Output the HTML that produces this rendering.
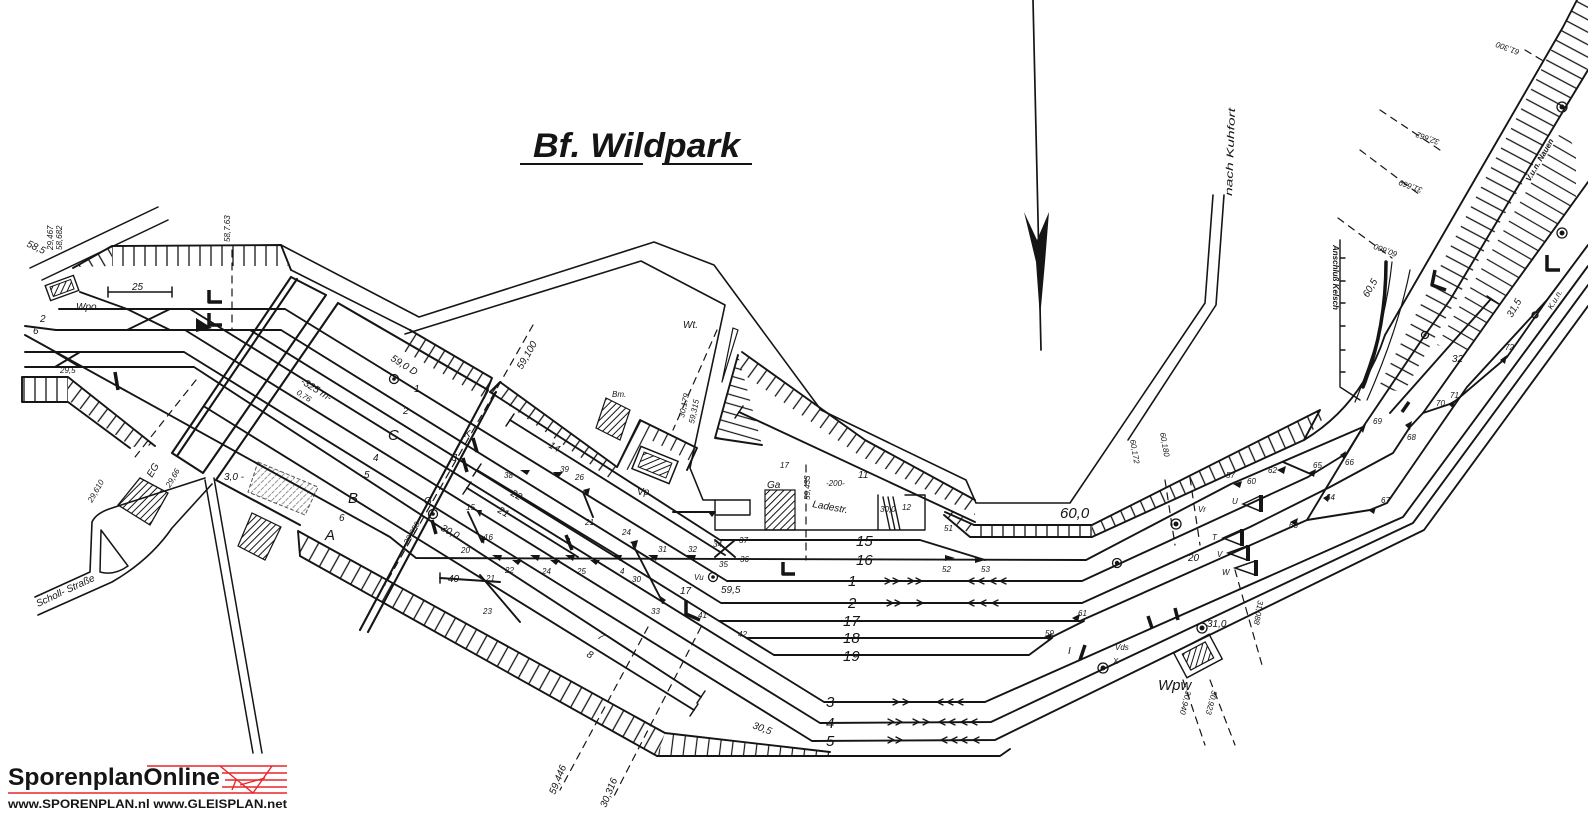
<!DOCTYPE html>
<html><head><meta charset="utf-8">
<style>
html,body{margin:0;padding:0;background:#fff;width:1588px;height:816px;overflow:hidden}
svg{display:block}
text{font-family:"Liberation Sans",sans-serif;fill:#151515}
.t{font-size:10px;font-style:italic}
.s{font-size:8px;font-style:italic}
.m{font-size:15px;font-style:italic}
</style></head><body>
<svg xmlns="http://www.w3.org/2000/svg" width="1588" height="816" viewBox="0 0 1588 816">
<defs>
<pattern id="h0" width="11" height="40" patternUnits="userSpaceOnUse"><path d="M2 0V40" stroke="#151515" stroke-width="1.3"/></pattern>
<pattern id="hm30" width="11" height="40" patternUnits="userSpaceOnUse" patternTransform="rotate(-30)"><path d="M2 0V40" stroke="#151515" stroke-width="1.3"/></pattern>
<pattern id="h37" width="11" height="40" patternUnits="userSpaceOnUse" patternTransform="rotate(37)"><path d="M2 0V40" stroke="#151515" stroke-width="1.3"/></pattern>
<pattern id="h29" width="12" height="40" patternUnits="userSpaceOnUse" patternTransform="rotate(29)"><path d="M2 0V40" stroke="#151515" stroke-width="1.3"/></pattern>
<pattern id="h7" width="12" height="40" patternUnits="userSpaceOnUse" patternTransform="rotate(7)"><path d="M2 0V40" stroke="#151515" stroke-width="1.2"/></pattern>
<pattern id="h32" width="11" height="40" patternUnits="userSpaceOnUse" patternTransform="rotate(32)"><path d="M2 0V40" stroke="#151515" stroke-width="1.3"/></pattern>
<pattern id="h36" width="11" height="40" patternUnits="userSpaceOnUse" patternTransform="rotate(36)"><path d="M2 0V40" stroke="#151515" stroke-width="1.3"/></pattern>
<pattern id="h27" width="10" height="40" patternUnits="userSpaceOnUse" patternTransform="rotate(27)"><path d="M2 0V40" stroke="#151515" stroke-width="1.2"/></pattern>
<pattern id="h70" width="9" height="40" patternUnits="userSpaceOnUse" patternTransform="rotate(-74)"><path d="M2 0V40" stroke="#151515" stroke-width="1.2"/></pattern>
<pattern id="hm24" width="11" height="40" patternUnits="userSpaceOnUse" patternTransform="rotate(-24)"><path d="M2 0V40" stroke="#151515" stroke-width="1.3"/></pattern>
<pattern id="hm62" width="11" height="60" patternUnits="userSpaceOnUse" patternTransform="rotate(-62)"><path d="M2 0V60" stroke="#151515" stroke-width="1.3"/></pattern>
<pattern id="hm60" width="11" height="60" patternUnits="userSpaceOnUse" patternTransform="rotate(-60)"><path d="M2 0V60" stroke="#151515" stroke-width="1.2"/></pattern>
<pattern id="hb" width="5" height="5" patternUnits="userSpaceOnUse" patternTransform="rotate(45)"><path d="M1 0V5" stroke="#151515" stroke-width="1"/></pattern>
<pattern id="hl" width="5" height="5" patternUnits="userSpaceOnUse" patternTransform="rotate(45)"><path d="M1 0V5" stroke="#777" stroke-width="0.8" stroke-dasharray="2 1"/></pattern>
</defs>

<g stroke="none">
<polygon points="112,246 281,246 288,266 112,266" fill="url(#h0)"/>
<polygon points="75,267 112,246 112,266" fill="url(#hm30)"/>
<polygon points="22,378 68,378 68,402 22,402" fill="url(#h0)"/>
<polygon points="68,378 155,445 132,447 68,400" fill="url(#h37)"/>
<polygon points="298,531 665,733 657,756 300,556" fill="url(#h29)"/>
<polygon points="665,733 830,752 830,756 657,756" fill="url(#h7)"/>
<polygon points="410,330 492,378 484,398 402,350" fill="url(#h32)"/>
<polygon points="500,382 617,467 609,478 490,392" fill="url(#h36)"/>
<polygon points="617,467 640,420 697,448 690,461 645,437 628,470" fill="url(#h27)"/>
<polygon points="738,355 715,438 762,445" fill="url(#h70)"/>
<polygon points="742,352 865,440 975,500 975,515 860,456 740,372" fill="url(#h36)"/>
<polygon points="948,508 974,525 974,537 944,515" fill="url(#h37)"/>
<polygon points="974,525 1092,525 1092,537 974,537" fill="url(#h0)"/>
<polygon points="1092,525 1318,410 1322,420 1304,440 1092,537" fill="url(#hm24)"/>
<polygon points="1378,388 1563,27 1577,0 1588,0 1588,68 1565,108 1404,392" fill="url(#hm62)"/>
<polygon points="1437,345 1563,128 1576,150 1576,200 1489,320 1465,352" fill="url(#hm60)"/>
<polygon points="118,505 140,478 168,493 150,525" fill="url(#hb)" stroke="#151515" stroke-width="1.3"/>
<polygon points="258,462 318,487 305,515 248,492" fill="url(#hl)" stroke="#555" stroke-width="1" stroke-dasharray="4 2"/>
<polygon points="252,513 281,527 265,560 238,546" fill="url(#hb)" stroke="#151515" stroke-width="1.2"/>
<polygon points="606,398 630,410 620,440 596,428" fill="url(#hb)" stroke="#151515" stroke-width="1.2"/>
<rect x="765" y="490" width="30" height="40" fill="url(#hb)" stroke="#151515" stroke-width="1.2"/>
<g transform="translate(655,465) rotate(22)"><rect x="-20" y="-12" width="40" height="24" fill="none" stroke="#151515" stroke-width="1.5"/><rect x="-15" y="-8" width="30" height="16" fill="url(#hb)" stroke="#151515" stroke-width="1"/></g>
<g transform="translate(62,288) rotate(-20)"><rect x="-15" y="-8" width="30" height="16" fill="none" stroke="#151515" stroke-width="1.4"/><rect x="-11" y="-5" width="22" height="10" fill="url(#hb)" stroke="#151515" stroke-width="1"/></g>
<g transform="translate(1198,656) rotate(-28)"><rect x="-20" y="-14" width="40" height="28" fill="none" stroke="#151515" stroke-width="1.4"/><rect x="-13" y="-9" width="26" height="18" fill="url(#hb)" stroke="#151515" stroke-width="1.2"/></g>
</g>

<g fill="none" stroke="#151515" stroke-width="1.9" stroke-linejoin="round" stroke-linecap="round">
<path d="M73 268 L112 246 L281 245 L291 270"/>
<path d="M22 377 H68 L155 446 M22 377 V402 H68 L130 448"/>
<path d="M298 531 L665 733 L830 752 M300 556 L657 756 L1000 756 L1010 749 M298 531 L300 556"/>
<path d="M410 330 L492 378 L484 398"/>
<path d="M490 392 L500 382 L617 467"/>
<path d="M617 467 L640 420 L697 448 L687 470"/>
<path d="M738 355 L715 438 L762 445"/>
<path d="M742 352 L865 440 L975 500"/>
<path d="M945 512 L974 525 L1092 525 L1320 410 L1304 440"/>
<path d="M944 515 L970 537 L1092 537 L1304 440 Q1362 405 1385 335 L1563 27 L1577 0"/>

<path d="M30 268 L158 207 M42 280 L168 220" stroke-width="1.5"/>
<path d="M1213 195 L1205 303 L1070 503 L976 503 L966 480 L821 410 L714 265 L654 242 L419 317 L281 245" stroke-width="1.6"/>
<path d="M1224 195 L1216 305 L1128 440" stroke-width="1.6"/>
<path d="M291 270 L410 330 M405 334 L641 261 L725 305 L690 468 L703 500 L750 500" stroke-width="1.6"/>
<path d="M733 328 L738 330 L722 382 Z" stroke-width="1.2"/>
<path d="M715 500 V530 H925 V495 H905 M878 495 V530 M715 515 H750 V500 M883 497 L890 530 M888 497 L895 530 M893 497 L900 530" stroke-width="1.4"/>
<path d="M291 277 L172 453 M297 279 L177 456 M326 295 L203 473 M291 277 L326 295 M172 453 L203 473" stroke-width="2.1"/>
<path d="M338 303 L216 480 M338 303 L488 390 M488 390 L360 630 M496 392 L368 632 M216 480 L300 525" stroke-width="2.1"/>
<path d="M205 480 L253 753 M214 478 L262 753" stroke-width="1.5"/>
<path d="M35 597 L90 572 L92 522 Q96 513 112 508 L205 478 M38 615 L112 582 Q150 560 172 528 L212 484" stroke-width="1.6"/>
<path d="M101 530 L128 566 Q114 576 100 572 Z" stroke-width="1.5"/>

<path d="M59 309 L285 309 L727 581 L1082 581 L1308 477 L1347 453 L1363 427"/>
<path d="M25 326 L56 330 L281 330 L721 603 L1082 603 L1250 527 L1330 487 L1393 453 L1410 427 L1423 413 L1503 300 L1588 182"/>
<path d="M25 335 L390 537 L416 558 L1086 560 L1231 484 L1363 427 L1425 335 L1450 300 L1565 108 L1588 70"/>
<path d="M250 330 L719 621 L1080 621 L1307 520 L1370 510 L1387 503 L1467 387 L1547 300 L1588 245 M719 621 L774 655"/>
<path d="M747 638 L1050 638 L1084 621"/>
<path d="M774 655 L1029 655 L1052 638"/>
<path d="M190 309 L824 702 L985 702 L1403 517 L1563 300 L1588 266"/>
<path d="M185 330 L820 723 L991 722 L1413 523 L1577 300 L1588 285"/>
<path d="M25 352 L184 352 L812 741 L995 740 L1424 530 L1588 306"/>
<path d="M25 367 L194 367 L701 697"/>
<path d="M205 407 L694 710"/>
<path d="M490 392 L720 540 L920 540 L985 560"/>
<path d="M673 512 H715"/>
<path d="M510 420 L725 555"/>
<path d="M477 470 L620 557"/>
<path d="M467 488 L578 557"/>
<path d="M739 412 L975 522"/>
<path d="M440 578 L500 582"/>
<path d="M80 292 L127 309 M127 309 L170 330 M127 330 L170 309 M55 352 L80 367 M55 367 L80 352"/>
<path d="M468 512 L482 542 M583 492 L593 517 M633 545 L663 603 M715 540 L735 557 M735 540 L715 557 M480 575 L520 622"/>
<path d="M1283 462 L1313 475 M1307 520 L1363 427 M1423 413 L1453 403 L1507 357 L1547 300 M1390 413 L1490 300"/>
<path d="M1355 402 Q1385 330 1392 262 M1367 400 Q1398 330 1410 270" stroke-width="1.2"/>
<path d="M1363 387 Q1386 330 1386 262" stroke-width="3.5"/>
<path d="M1340 240 V387 L1360 400 M1340 258 h5 M1340 281 h5 M1340 303 h5 M1340 326 h5 M1340 350 h5 M1340 372 h5" stroke-width="1.4"/>
<path d="M506 426 L514 414 M473 476 L481 464 M463 494 L471 482 M697 703 L705 691 M690 716 L698 704 M735 418 L743 406 M440 573 V583 M1487 296 L1499 304 M108 287 V297 M172 287 V297 M108 292 H172" stroke-width="1.5"/>

<path d="M1033 0 L1041 350" stroke-width="1.7"/>

<g stroke-width="1.2" stroke-dasharray="7 6">
<path d="M533 325 L385 585"/>
<path d="M232 250 V330"/>
<path d="M196 380 L135 457"/>
<path d="M648 627 L560 790"/>
<path d="M701 627 L612 800"/>
<path d="M717 330 L673 430"/>
<path d="M806 465 V560"/>
<path d="M1165 480 L1175 545 M1190 478 L1200 545"/>
<path d="M1235 570 L1262 665"/>
<path d="M1183 680 L1205 745 M1210 680 L1235 745"/>
<path d="M1525 50 L1545 62 M1380 110 L1440 150 M1360 150 L1420 195 M1338 218 L1392 258"/>
</g>

<g stroke-width="3.5" stroke-linecap="butt">
<path d="M115 372 L118 390 M473 438 L477 452 M463 458 L467 472 M432 520 L436 534 M566 535 L572 550 M209 290 V302 H222 M209 313 V325 H222 M783 562 V574 H795 M686 600 V614 L700 620 M1547 255 V270 H1560 M1435 270 L1432 285 L1446 290 M1148 616 L1152 628 M1175 608 L1178 620 M1409 402 L1402 412 M1085 645 L1080 660"/>
</g>
<g stroke-width="1.3">
<circle cx="394" cy="379" r="4.5"/><circle cx="433" cy="514" r="4.5"/><circle cx="713" cy="577" r="4.5"/>
<circle cx="1117" cy="563" r="4.5"/><circle cx="1176" cy="524" r="5"/><circle cx="1202" cy="628" r="5"/>
<circle cx="1103" cy="668" r="5"/><circle cx="1425" cy="335" r="3.5"/><circle cx="1562" cy="107" r="5"/>
<circle cx="1562" cy="233" r="5"/><circle cx="1535" cy="315" r="3"/>
</g>
<path stroke-width="1.3" d="M885 578 l6 3 l-6 3 M893 578 l6 3 l-6 3 M908 578 l6 3 l-6 3 M916 578 l6 3 l-6 3 M974 578 l-6 3 l6 3 M984 578 l-6 3 l6 3 M996 578 l-6 3 l6 3 M1006 578 l-6 3 l6 3
M887 600 l6 3 l-6 3 M895 600 l6 3 l-6 3 M917 600 l6 3 l-6 3 M974 600 l-6 3 l6 3 M986 600 l-6 3 l6 3 M998 600 l-6 3 l6 3
M893 699 l6 3 l-6 3 M903 699 l6 3 l-6 3 M943 699 l-6 3 l6 3 M953 699 l-6 3 l6 3 M963 699 l-6 3 l6 3
M888 719 l6 3 l-6 3 M896 719 l6 3 l-6 3 M913 719 l6 3 l-6 3 M923 719 l6 3 l-6 3 M945 719 l-6 3 l6 3 M955 719 l-6 3 l6 3 M967 719 l-6 3 l6 3 M977 719 l-6 3 l6 3
M888 737 l6 3 l-6 3 M896 737 l6 3 l-6 3 M947 737 l-6 3 l6 3 M957 737 l-6 3 l6 3 M967 737 l-6 3 l6 3 M979 737 l-6 3 l6 3"/>
</g>

<g fill="#151515" stroke="none">
<polygon points="1024,212 1037,240 1049,212 1045,262 1040,318 1036,262"/>
<circle cx="394" cy="379" r="1.8"/><circle cx="433" cy="514" r="1.8"/><circle cx="713" cy="577" r="1.8"/>
<circle cx="1117" cy="563" r="2.2"/><circle cx="1176" cy="524" r="2.5"/><circle cx="1202" cy="628" r="2.5"/>
<circle cx="1103" cy="668" r="2.5"/><circle cx="1425" cy="335" r="1.5"/><circle cx="1562" cy="107" r="2.5"/><circle cx="1562" cy="233" r="2.5"/>
<polygon points="492,555 502,555 500,561"/><polygon points="530,555 540,555 538,561"/><polygon points="565,555 575,555 573,561"/>
<polygon points="612,555 622,555 620,561"/><polygon points="648,555 658,555 656,561"/><polygon points="686,555 696,555 694,561"/>
<polygon points="512,560 522,560 518,565"/><polygon points="550,560 560,560 556,565"/><polygon points="590,560 600,560 596,565"/>
<polygon points="520,470 530,470 527,475"/><polygon points="553,472 563,472 558,478"/><polygon points="583,490 590,488 588,496"/>
<polygon points="630,542 638,540 636,548"/><polygon points="476,510 482,510 480,517"/><polygon points="480,538 485,536 484,544"/>
<polygon points="660,596 666,600 662,604"/><polygon points="708,512 716,512 712,517"/><polygon points="1072,618 1080,614 1078,622"/>
<polygon points="1044,637 1052,633 1050,641"/><polygon points="1233,484 1242,481 1240,488"/><polygon points="1277,470 1286,466 1284,474"/>
<polygon points="1308,473 1316,469 1314,477"/><polygon points="1290,522 1298,518 1296,526"/><polygon points="1360,428 1366,424 1363,433"/>
<polygon points="1340,455 1346,451 1344,459"/><polygon points="1323,498 1330,494 1328,502"/><polygon points="1368,510 1376,507 1374,514"/>
<polygon points="1405,425 1412,421 1410,430"/><polygon points="1448,404 1455,400 1453,408"/><polygon points="1500,360 1507,355 1505,364"/>
<polygon points="945,555 955,558 945,561"/><polygon points="975,558 985,560 975,563"/>
<polygon points="1223,538 1241,530 1241,545" fill="none" stroke="#151515" stroke-width="1.5"/>
<polygon points="1228,553 1247,546 1247,560" fill="none" stroke="#151515" stroke-width="1.5"/>
<polygon points="1235,568 1255,561 1255,575" fill="none" stroke="#151515" stroke-width="1.5"/>
<polygon points="1243,504 1260,496 1260,511" fill="none" stroke="#151515" stroke-width="1.5"/>
<rect x="1240" y="529" width="4" height="17"/><rect x="1246" y="545" width="4" height="16"/><rect x="1254" y="560" width="4" height="16"/><rect x="1259" y="495" width="4" height="17"/>
<polygon points="196,318 212,328 196,332"/>
</g>

<text x="533" y="157" font-size="34" font-weight="bold" font-style="italic" textLength="207" lengthAdjust="spacingAndGlyphs">Bf. Wildpark</text>
<path d="M520 164H643M662 164H752" stroke="#151515" stroke-width="2"/>

<text class="t" transform="translate(1232,196) rotate(-88)" textLength="88" lengthAdjust="spacingAndGlyphs">nach Kuhfort</text>
<text class="t" transform="translate(26,246) rotate(25)">58,5</text>
<text class="s" transform="translate(53,250) rotate(-90)">29,467</text>
<text class="s" transform="translate(62,250) rotate(-90)">58,682</text>
<text class="s" transform="translate(230,242) rotate(-90)">58,7.63</text>
<text class="t" x="132" y="290">25</text>
<text class="t" x="76" y="310">Wpo</text>
<text class="t" x="40" y="322">2</text>
<text class="t" x="33" y="334">6</text>
<text class="s" x="60" y="373">29,5</text>
<text class="t" transform="translate(390,360) rotate(32)">59,0 D</text>
<text class="t" x="414" y="392">1</text>
<text class="t" x="403" y="414">2</text>
<text class="m" x="388" y="440">C</text>
<text class="t" x="373" y="461">4</text>
<text class="t" x="364" y="478">5</text>
<text class="m" x="348" y="503">B</text>
<text class="t" x="339" y="521">6</text>
<text class="m" x="325" y="540">A</text>
<text class="t" transform="translate(300,383) rotate(32)">-325 m-</text>
<text class="s" transform="translate(296,394) rotate(32)">0,76</text>
<text class="t" x="224" y="480">3,0 -</text>
<text class="s" transform="translate(408,545) rotate(-60)">29,950</text>
<text class="t" transform="translate(440,530) rotate(28)">30,0</text>
<text class="t" transform="translate(522,370) rotate(-60)">59,100</text>
<text class="t" x="424" y="504">G</text>
<text class="t" x="464" y="437">K</text>
<text class="t" x="452" y="461">J</text>
<text class="t" transform="translate(548,447) rotate(30)">14</text>
<text class="t" transform="translate(510,495) rotate(30)">22</text>
<text class="t" transform="translate(497,512) rotate(30)">21</text>
<text class="s" x="466" y="510">15</text><text class="s" x="484" y="540">16</text><text class="s" x="461" y="553">20</text>
<text class="s" x="504" y="478">38</text><text class="s" x="560" y="472">39</text><text class="s" x="575" y="480">26</text>
<text class="s" x="585" y="525">21</text><text class="s" x="622" y="535">24</text><text class="s" x="568" y="544">I</text>
<text class="s" x="505" y="573">22</text><text class="s" x="542" y="574">24</text><text class="s" x="577" y="574">25</text>
<text class="s" x="620" y="574">4</text><text class="s" x="632" y="582">30</text><text class="s" x="658" y="552">31</text>
<text class="s" x="688" y="552">32</text><text class="s" x="713" y="547">34</text><text class="s" x="719" y="567">35</text><text class="s" x="740" y="562">36</text>
<text class="s" x="739" y="543">37</text><text class="s" x="651" y="614">33</text><text class="t" x="680" y="594">17</text>
<text class="s" x="698" y="618">41</text><text class="s" x="738" y="637">42</text>
<text class="t" x="448" y="582">40</text><text class="s" x="486" y="581">21</text><text class="s" x="483" y="614">23</text>
<text class="s" x="694" y="580">Vu</text><text class="t" x="721" y="593">59,5</text>
<text class="t" transform="translate(597,638) rotate(30)">7</text>
<text class="t" transform="translate(586,656) rotate(30)">8</text>
<text class="s" x="612" y="397">Bm.</text>
<text class="t" x="683" y="328">Wt.</text>
<text class="s" transform="translate(684,418) rotate(-78)">30,179</text>
<text class="s" transform="translate(694,424) rotate(-78)">59,315</text>
<text class="t" x="637" y="495">Vp</text>
<text class="t" x="767" y="488">Ga</text>
<text class="s" x="780" y="468">17</text>
<text class="s" transform="translate(810,500) rotate(-90)">59,433</text>
<text class="s" x="826" y="486">-200-</text>
<text class="t" transform="translate(812,507) rotate(10)">Ladestr.</text>
<text class="t" x="858" y="478">11</text><text class="s" x="902" y="510">12</text><text class="s" x="880" y="512">30,0</text>
<text class="s" x="944" y="531">51</text><text class="s" x="942" y="572">52</text><text class="s" x="981" y="572">53</text>
<text class="m" x="856" y="546">15</text>
<text class="m" x="856" y="565">16</text>
<text class="m" x="848" y="586">1</text>
<text class="m" x="848" y="608">2</text>
<text class="m" x="843" y="626">17</text>
<text class="m" x="843" y="643">18</text>
<text class="m" x="843" y="661">19</text>
<text class="m" x="826" y="707">3</text>
<text class="m" x="826" y="728">4</text>
<text class="m" x="826" y="746">5</text>
<text class="t" transform="translate(752,728) rotate(20)">30,5</text>
<text class="t" transform="translate(555,795) rotate(-68)">59,446</text>
<text class="t" transform="translate(606,808) rotate(-68)">30,316</text>
<text class="m" x="1060" y="518">60,0</text>
<text class="s" transform="translate(1130,440) rotate(80)">60,172</text>
<text class="s" transform="translate(1160,433) rotate(80)">60,180</text>
<text class="s" x="1198" y="512">Vr</text><text class="s" x="1232" y="504">U</text><text class="s" x="1212" y="540">T</text>
<text class="t" x="1188" y="561">20</text><text class="s" x="1217" y="557">V</text><text class="s" x="1222" y="575">W</text>
<text class="s" x="1226" y="478">57</text><text class="s" x="1247" y="484">60</text><text class="s" x="1268" y="473">62</text>
<text class="s" x="1313" y="468">65</text><text class="s" x="1345" y="465">66</text><text class="s" x="1326" y="500">64</text>
<text class="s" x="1289" y="528">63</text><text class="s" x="1381" y="503">67</text><text class="s" x="1373" y="424">69</text>
<text class="s" x="1407" y="440">68</text><text class="s" x="1436" y="406">70</text><text class="s" x="1450" y="398">71</text>
<text class="s" x="1505" y="350">72</text><text class="t" x="1452" y="362">32</text><text class="t" transform="translate(1512,318) rotate(-60)">31,5</text>
<text class="s" x="1078" y="616">61</text><text class="s" x="1045" y="636">59</text>
<text class="t" x="1207" y="627">31,0</text><text class="s" x="1115" y="650">Vds</text><text class="s" x="1113" y="664">X</text>
<text class="t" x="1068" y="654">I</text>
<text class="m" x="1158" y="690">Wpw</text>
<text class="s" transform="translate(1258,600) rotate(100)">31,088</text>
<text class="s" transform="translate(1186,690) rotate(105)">30,940</text>
<text class="s" transform="translate(1212,690) rotate(105)">30,923</text>
<text class="s" font-weight="bold" transform="translate(1333,245) rotate(90)">Anschluß Kelsch</text>
<text class="t" transform="translate(1368,298) rotate(-60)">60,5</text>
<text class="s" transform="translate(1398,252) rotate(200)">60,600</text>
<text class="s" transform="translate(1423,188) rotate(200)">31,669</text>
<text class="s" transform="translate(1440,140) rotate(200)">32,662</text>
<text class="s" transform="translate(1520,50) rotate(200)">61,300</text>
<text class="s" font-weight="bold" transform="translate(1530,182) rotate(-60)">V.u.n. Nauen</text>
<text class="s" transform="translate(1552,310) rotate(-60)">K.u.n.</text>
<text class="t" transform="translate(38,607) rotate(-25)">Scholl- Straße</text>
<text class="t" transform="translate(152,478) rotate(-60)">EG</text>
<text class="s" transform="translate(170,488) rotate(-60)">29,66</text>
<text class="s" transform="translate(92,503) rotate(-60)">29,610</text>

<g stroke="#e8262a" stroke-width="1.4" fill="none">
<path d="M147 766 H287 M222 773 H287 M225 780 H287 M222 787 H287 M8 793 H287"/>
<path d="M220 766 L253 793 L272 766 M240 785 L265 778 M232 790 L236 780"/>
</g>
<text x="8" y="785" font-size="24" font-weight="bold" textLength="212" lengthAdjust="spacingAndGlyphs">SporenplanOnline</text>
<text x="8" y="808" font-size="12" font-weight="bold" textLength="279" lengthAdjust="spacingAndGlyphs">www.SPORENPLAN.nl  www.GLEISPLAN.net</text>
</svg>
</body></html>
